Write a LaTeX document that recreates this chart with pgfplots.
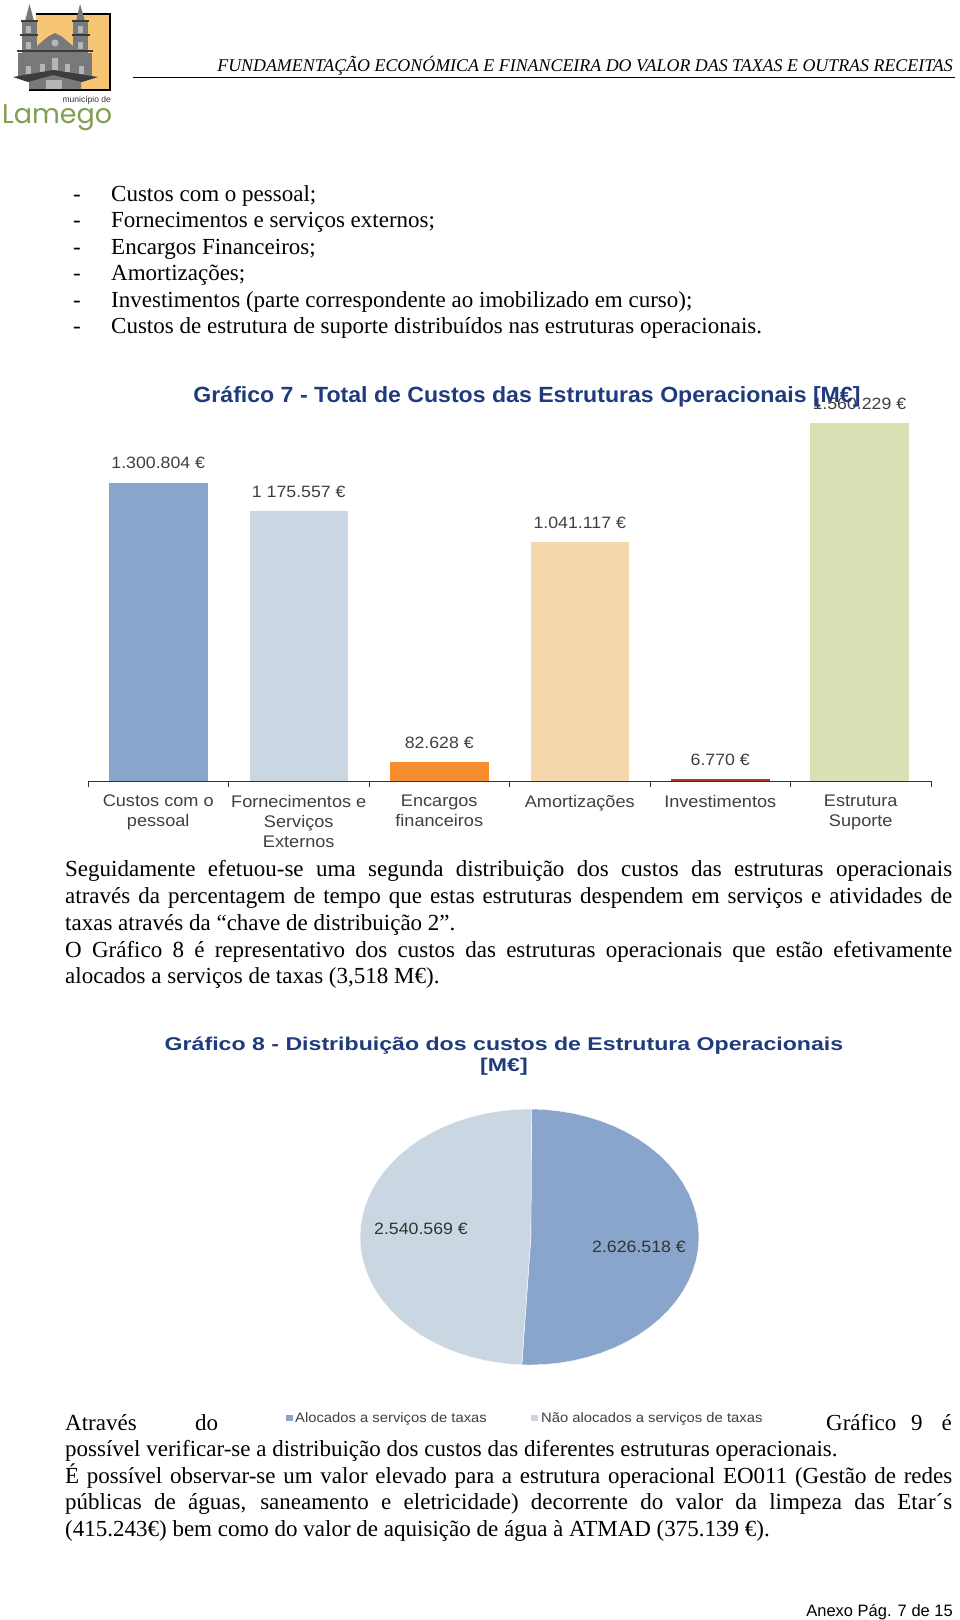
\documentclass[border=0pt]{standalone}
\usepackage{pgfplots}
\pgfplotsset{compat=1.18}
\usepackage{pgfplotstable}
\usepackage{fontspec}
\setmainfont{Liberation Serif}
\newfontfamily\chartfont[FakeStretch=1.08]{Liberation Sans}
\newfontfamily\titlefont[FakeStretch=1.05]{Liberation Sans}
\newfontfamily\titlefontw[FakeStretch=1.25]{Liberation Sans}
\newfontfamily\sansfont{Liberation Sans}
\newfontfamily\logofont{Poppins}
\definecolor{cblue}{HTML}{8AA5CB}
\definecolor{clight}{HTML}{CAD6E2}
\definecolor{corange}{HTML}{F68E2F}
\definecolor{cpeach}{HTML}{F6D7AD}
\definecolor{cred}{HTML}{A83A26}
\definecolor{cgreen}{HTML}{D8E0B4}
\definecolor{ctitle}{HTML}{1F3A7D}
\definecolor{lgreen}{HTML}{7F9F50}
\definecolor{lyellow}{HTML}{F6C674}
\definecolor{lgray}{HTML}{77797B}
\definecolor{ldark}{HTML}{3A3C3D}
\definecolor{llight}{HTML}{B4B6B8}
\newcommand{\bodyfont}{\fontsize{23}{26}\selectfont}
\newcommand{\Lft}[3]{\node[anchor=base west,inner sep=0pt] at (#1pt,-#2pt) {#3};}
\newcommand{\Rgt}[3]{\node[anchor=base east,inner sep=0pt] at (#1pt,-#2pt) {#3};}
\newcommand{\Ctr}[3]{\node[anchor=base,inner sep=0pt] at (#1pt,-#2pt) {#3};}
\newcommand{\Just}[2]{\node[anchor=base west,inner sep=0pt] at (65pt,-#1pt) {\bodyfont\hbox to 887pt{#2}};}
\newcommand{\Rct}[5]{\fill[#5] (#1pt,-#2pt) rectangle (#3pt,-#4pt);}
\begin{document}
\begin{tikzpicture}
\path[use as bounding box,fill=white] (0pt,0pt) rectangle (960pt,-1620pt);
% logo
\Rct{36}{14}{110}{90}{lyellow}
\draw[black,line width=1.4pt] (36pt,-14pt) -- (110pt,-14pt) -- (110pt,-90pt) -- (29pt,-90pt);
% towers
\Rct{22}{21}{37}{55}{lgray}
\Rct{73}{21}{88}{55}{lgray}
\fill[lgray] (29.5pt,-4pt) -- (34pt,-21pt) -- (25pt,-21pt) -- cycle;
\fill[lgray] (80pt,-4pt) -- (85pt,-21pt) -- (76pt,-21pt) -- cycle;
% body and gable
\fill[lgray] (37pt,-46pt) -- (44pt,-40pt) -- (49pt,-36pt) -- (55pt,-33pt) -- (61pt,-36pt) -- (66pt,-40pt) -- (73pt,-46pt) -- (73pt,-55pt) -- (37pt,-55pt) -- cycle;
\Rct{18}{53}{92}{76}{lgray}
\draw[ldark,line width=1.3pt] (21pt,-21pt) -- (38pt,-21pt) (72pt,-21pt) -- (89pt,-21pt) (20pt,-35pt) -- (38pt,-35pt) (72pt,-35pt) -- (90pt,-35pt) (17pt,-51pt) -- (93pt,-51pt);
\fill[llight] (55pt,-43pt) circle (3.6pt);
% windows
\Rct{26}{26}{31}{33}{llight}
\Rct{78}{26}{83}{33}{llight}
\Rct{26}{42}{31}{49}{llight}
\Rct{78}{42}{83}{49}{llight}
\Rct{26}{66}{31}{74}{llight}
\Rct{40}{64}{45}{72}{llight}
\Rct{52}{58}{58}{70}{llight}
\Rct{65}{64}{70}{72}{llight}
\Rct{79}{66}{84}{74}{llight}
% roof and skirt
\fill[lgray] (29pt,-78pt) -- (53pt,-72pt) -- (81pt,-78pt) -- (81pt,-89pt) -- (29pt,-89pt) -- cycle;
\fill[ldark] (13pt,-77pt) -- (53pt,-70pt) -- (98pt,-77pt) -- (82pt,-82pt) -- (53pt,-75pt) -- (28pt,-82pt) -- cycle;
\Rct{46}{80}{62}{89}{llight}
\Rgt{111}{102}{\color{black!80}\sansfont\fontsize{8.5}{9}\selectfont município de}
\Lft{2}{123}{\color{lgreen}\logofont\fontsize{27}{27}\selectfont Lamego}
% header
\Rgt{953}{71}{\fontsize{17.9}{18}\selectfont\itshape FUNDAMENTAÇÃO ECONÓMICA E FINANCEIRA DO VALOR DAS TAXAS E OUTRAS RECEITAS}
\draw[black,line width=1pt] (133pt,-77.5pt) -- (955pt,-77.5pt);
% bullet list
\Lft{73}{201}{\bodyfont -}\Lft{111}{201}{\bodyfont Custos com o pessoal;}
\Lft{73}{227}{\bodyfont -}\Lft{111}{227}{\bodyfont Fornecimentos e serviços externos;}
\Lft{73}{254}{\bodyfont -}\Lft{111}{254}{\bodyfont Encargos Financeiros;}
\Lft{73}{280}{\bodyfont -}\Lft{111}{280}{\bodyfont Amortizações;}
\Lft{73}{307}{\bodyfont -}\Lft{111}{307}{\bodyfont Investimentos (parte correspondente ao imobilizado em curso);}
\Lft{73}{333}{\bodyfont -}\Lft{111}{333}{\bodyfont Custos de estrutura de suporte distribuídos nas estruturas operacionais.}
% bars
\begin{axis}[
  at={(88pt,-781pt)},anchor=south west,scale only axis,
  width=843pt,height=366.9pt,
  xmin=-0.5,xmax=5.5,ymin=0,ymax=1600000,
  axis x line=bottom,axis y line=none,
  axis line style={-,black!80,line width=0.9pt},
  xtick={0,1,2,3,4,5},
  xticklabels={{Custos com o\\pessoal},{Fornecimentos e\\Serviços\\Externos},{Encargos\\financeiros},{Amortizações},{Investimentos},{Estrutura\\Suporte}},
  major tick length=0pt,
  minor xtick={-0.5,0.5,1.5,2.5,3.5,4.5,5.5},
  minor tick length=6pt,
  tick align=outside,
  tick style={black!80,line width=0.9pt},
  xticklabel style={align=center,font=\chartfont\fontsize{16.8}{20}\selectfont,text=black!75,yshift=-14pt,inner sep=0pt},
  ybar,bar shift=0pt,bar width=98.5pt,
  nodes near coords style={font=\chartfont\fontsize{16.4}{20}\selectfont,text=black!75,anchor=base,yshift=14pt,inner sep=0pt},
  clip=false,
]
\addplot[fill=cblue,draw=none,nodes near coords={1.300.804 €}] coordinates {(0,1300804)};
\addplot[fill=clight,draw=none,nodes near coords={1 175.557 €}] coordinates {(1,1175557)};
\addplot[fill=corange,draw=none,nodes near coords={82.628 €}] coordinates {(2,82628)};
\addplot[fill=cpeach,draw=none,nodes near coords={1.041.117 €}] coordinates {(3,1041117)};
\addplot[fill=cred,draw=none,nodes near coords={6.770 €}] coordinates {(4,6770)};
\addplot[fill=cgreen,draw=none,nodes near coords={1.560.229 €}] coordinates {(4.99,1560229)};
\end{axis}
\Ctr{527}{402}{\color{ctitle}\titlefont\bfseries\fontsize{22}{24}\selectfont Gráfico 7 - Total de Custos das Estruturas Operacionais [M€]}
% paragraph 1
\Just{876}{Seguidamente efetuou-se uma segunda distribuição dos custos das estruturas operacionais}
\Just{903}{através da percentagem de tempo que estas estruturas despendem em serviços e atividades de}
\Lft{65}{930}{\bodyfont taxas através da “chave de distribuição 2”.}
\Just{957}{O Gráfico 8 é representativo dos custos das estruturas operacionais que estão efetivamente}
\Lft{65}{983}{\bodyfont alocados a serviços de taxas (3,518 M€).}
% pie title
\Ctr{504}{1050}{\color{ctitle}\titlefontw\bfseries\fontsize{18.5}{22}\selectfont Gráfico 8 - Distribuição dos custos de Estrutura Operacionais}
\Ctr{504}{1071}{\color{ctitle}\titlefontw\bfseries\fontsize{18.5}{22}\selectfont [M€]}
% pie: values 2.626.518 and 2.540.569, outlines as unit-circle points
\begin{axis}[
  at={(360pt,-1365pt)},anchor=south west,scale only axis,
  width=339pt,height=256pt,
  xmin=-1,xmax=1,ymin=-1,ymax=1,
  hide axis,clip=false,
]
\addplot[fill=cblue,draw=white,line width=0.4pt] table[row sep=\\] {
x y\\ .008 0\\ .012 1\\ .0872 .9962\\ .1736 .9848\\ .2588 .9659\\ .3420 .9397\\ .4226 .9063\\ .5 .8660\\ .5736 .8192\\ .6428 .7660\\ .7071 .7071\\ .7660 .6428\\ .8192 .5736\\ .8660 .5\\ .9063 .4226\\ .9397 .3420\\ .9659 .2588\\ .9848 .1736\\ .9962 .0872\\ 1 0\\ .9962 -.0872\\ .9848 -.1736\\ .9659 -.2588\\ .9397 -.3420\\ .9063 -.4226\\ .8660 -.5\\ .8192 -.5736\\ .7660 -.6428\\ .7071 -.7071\\ .6428 -.7660\\ .5736 -.8192\\ .5 -.8660\\ .4226 -.9063\\ .3420 -.9397\\ .2588 -.9659\\ .1736 -.9848\\ .0872 -.9962\\ 0 -1\\ -.0453 -.9986\\ .008 0\\
};
\addplot[fill=clight,draw=white,line width=0.4pt] table[row sep=\\] {
x y\\ .008 0\\ -.0453 -.9986\\ -.0872 -.9962\\ -.1736 -.9848\\ -.2588 -.9659\\ -.3420 -.9397\\ -.4226 -.9063\\ -.5 -.8660\\ -.5736 -.8192\\ -.6428 -.7660\\ -.7071 -.7071\\ -.7660 -.6428\\ -.8192 -.5736\\ -.8660 -.5\\ -.9063 -.4226\\ -.9397 -.3420\\ -.9659 -.2588\\ -.9848 -.1736\\ -.9962 -.0872\\ -1 0\\ -.9962 .0872\\ -.9848 .1736\\ -.9659 .2588\\ -.9397 .3420\\ -.9063 .4226\\ -.8660 .5\\ -.8192 .5736\\ -.7660 .6428\\ -.7071 .7071\\ -.6428 .7660\\ -.5736 .8192\\ -.5 .8660\\ -.4226 .9063\\ -.3420 .9397\\ -.2588 .9659\\ -.1736 .9848\\ -.0872 .9962\\ .012 1\\ .008 0\\
};
\end{axis}
\Lft{374}{1234}{\color{black!80}\chartfont\fontsize{16.4}{20}\selectfont 2.540.569 €}
\Lft{592}{1252}{\color{black!80}\chartfont\fontsize{16.4}{20}\selectfont 2.626.518 €}
% legend
\fill[cblue] (286pt,-1415pt) rectangle (292.5pt,-1421pt);
\Lft{295}{1422}{\color{black!75}\chartfont\fontsize{13.7}{15}\selectfont Alocados a serviços de taxas}
\fill[clight] (531pt,-1415pt) rectangle (537.5pt,-1421pt);
\Lft{541}{1422}{\color{black!75}\chartfont\fontsize{13.7}{15}\selectfont Não alocados a serviços de taxas}
% paragraph 2
\Lft{65}{1430}{\bodyfont Através}
\Lft{195}{1430}{\bodyfont do}
\Lft{826}{1430}{\bodyfont Gráfico}
\Lft{911}{1430}{\bodyfont 9}
\Rgt{952}{1430}{\bodyfont é}
\Lft{65}{1456}{\bodyfont possível verificar-se a distribuição dos custos das diferentes estruturas operacionais.}
\Just{1483}{É possível observar-se um valor elevado para a estrutura operacional EO011 (Gestão de redes}
\Just{1509}{públicas de águas, saneamento e eletricidade) decorrente do valor da limpeza das Etar´s}
\Lft{65}{1536}{\bodyfont (415.243€) bem como do valor de aquisição de água à ATMAD (375.139 €).}
\Rgt{953}{1616}{\sansfont\fontsize{16.5}{18}\selectfont Anexo Pág. 7 de 15}
\end{tikzpicture}
\end{document}
